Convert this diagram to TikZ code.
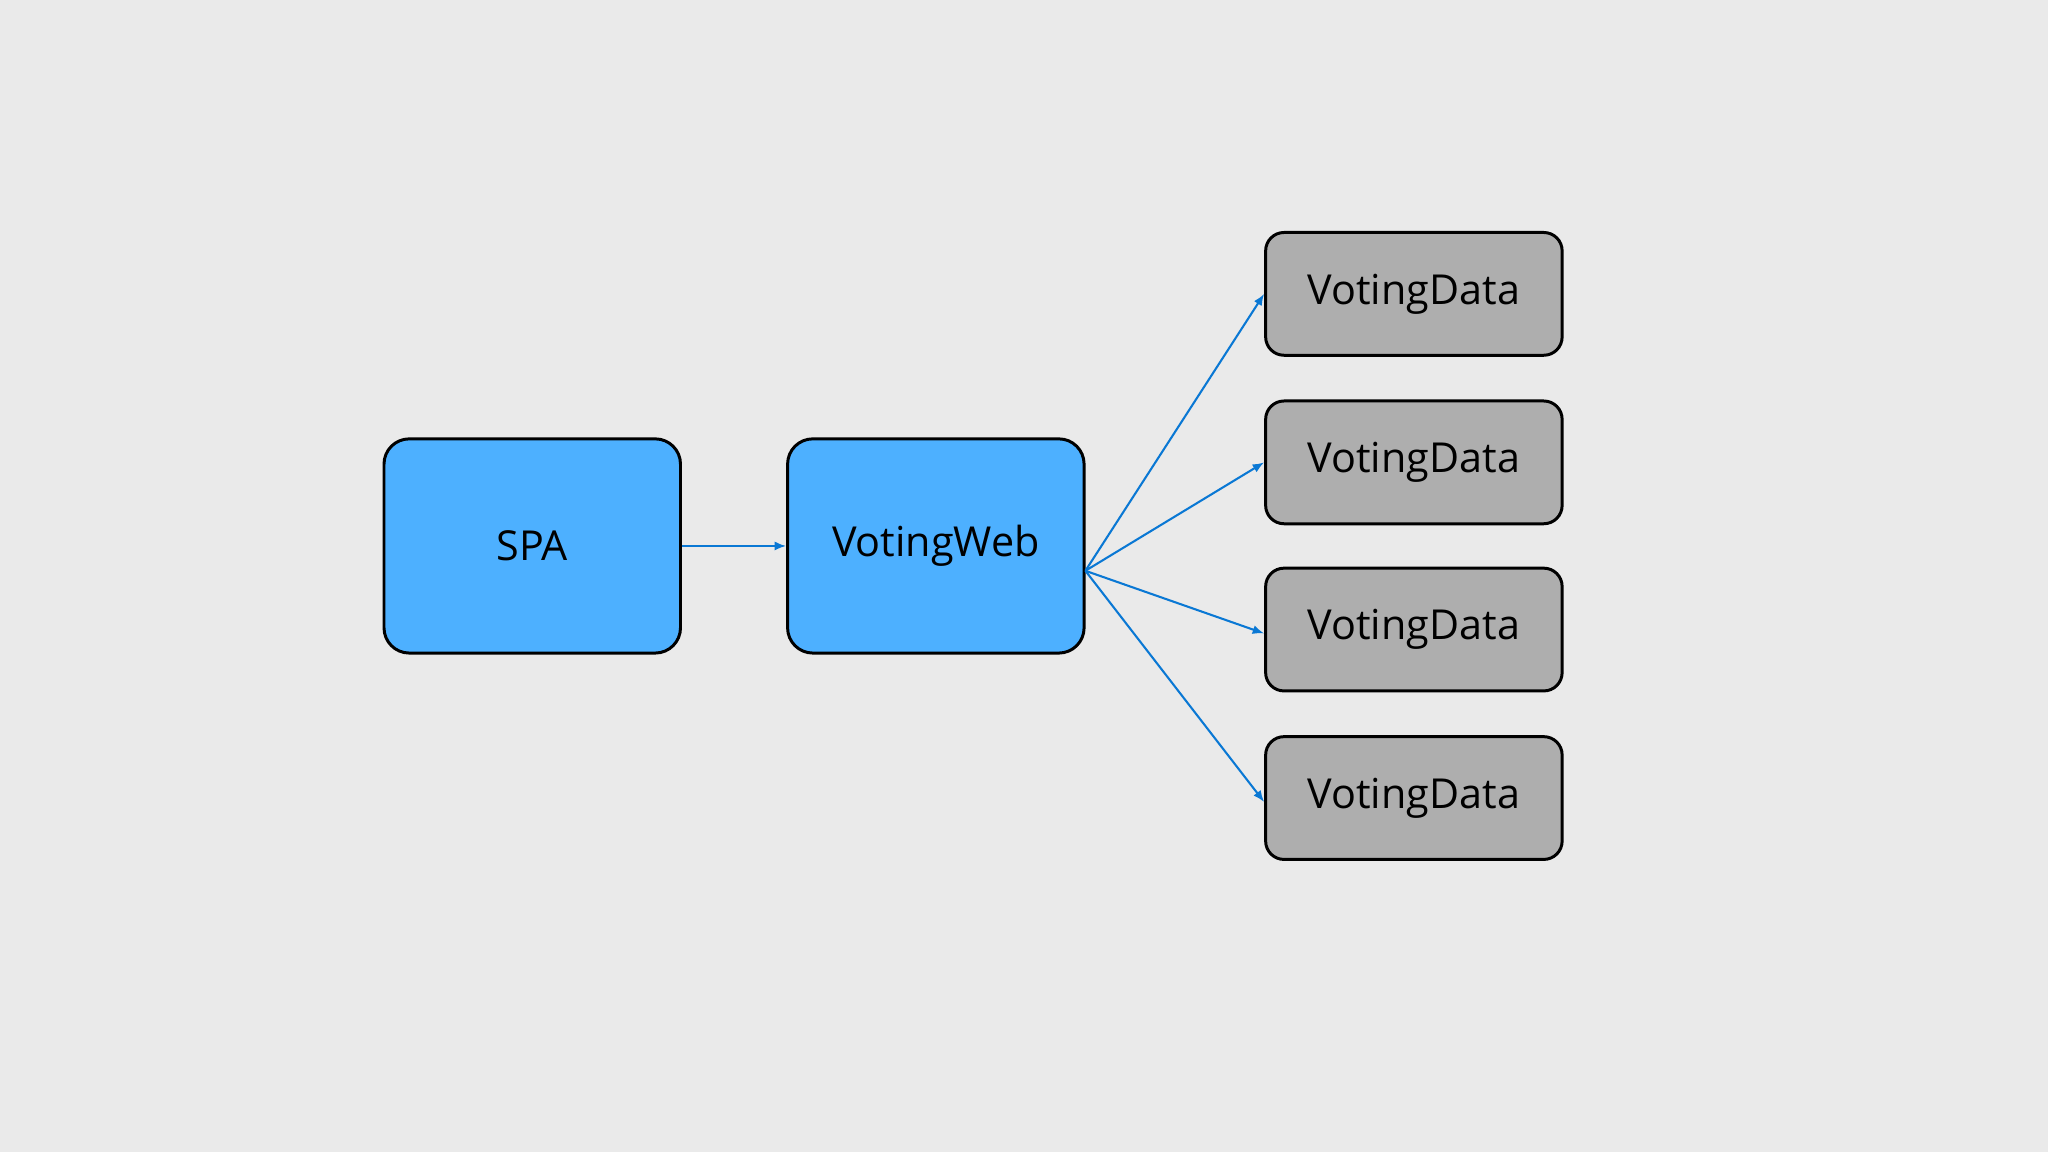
\documentclass[tikz,border=0pt]{standalone}
\usepackage{fontspec}
\setmainfont{Open Sans}
\usetikzlibrary{arrows.meta}
\definecolor{bg}{HTML}{EAEAEA}
\definecolor{bluefill}{HTML}{4DB0FF}
\definecolor{greyfill}{HTML}{AEAEAE}
\definecolor{arrowc}{HTML}{0A78D4}
\begin{document}
\begin{tikzpicture}[x=0.02cm,y=-0.02cm,
  blue box/.style={draw=black,line width=1.3pt,fill=bluefill,rounded corners=11pt,minimum width=227*0.02cm,minimum height=164*0.02cm,font=\fontsize{18}{20}\selectfont,inner sep=0pt},
  grey box/.style={draw=black,line width=1.3pt,fill=greyfill,rounded corners=8pt,minimum width=227*0.02cm,minimum height=94*0.02cm,font=\fontsize{18}{20}\selectfont,inner sep=0pt},
  conn/.style={draw=arrowc,line width=0.9pt,-{Latex[length=5pt,width=4pt]}}]
\fill[bg] (0,0) rectangle (1568,882);
\useasboundingbox (0,0) rectangle (1568,882);
\node[blue box] (spa) at (407.5,418) {SPA};
\node[blue box] (web) at (716.5,418) {VotingWeb};
\node[grey box] (d1) at (1082.5,225) {VotingData};
\node[grey box] (d2) at (1082.5,354) {VotingData};
\node[grey box] (d3) at (1082.5,482) {VotingData};
\node[grey box] (d4) at (1082.5,611) {VotingData};
\coordinate (hub) at (831,437);
\draw[conn] (spa.east) -- (web.west);
\draw[conn] (hub) -- (d1.west);
\draw[conn] (hub) -- (d2.west);
\draw[conn] (hub) -- ([yshift=-3*0.02cm]d3.west);
\draw[conn] (hub) -- ([yshift=-3*0.02cm]d4.west);
\end{tikzpicture}
\end{document}
